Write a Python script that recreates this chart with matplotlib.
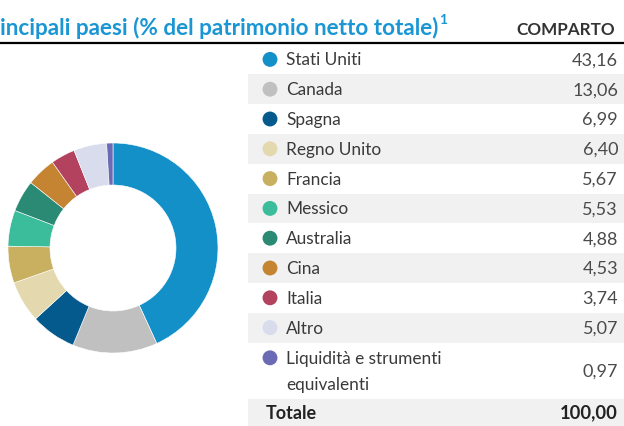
import matplotlib.pyplot as plt
from matplotlib.patches import Rectangle

plt.rcParams['font.family'] = ['Lato', 'DejaVu Sans']

countries = ['Stati Uniti', 'Canada', 'Spagna', 'Regno Unito', 'Francia',
             'Messico', 'Australia', 'Cina', 'Italia', 'Altro',
             'Liquidità e strumenti\nequivalenti']
weights = [43.16, 13.06, 6.99, 6.40, 5.67, 5.53, 4.88, 4.53, 3.74, 5.07, 0.97]
colors = ['#1490c9', '#c0c0c0', '#045a8d', '#e4d8ae', '#c9b060', '#3bbd9c',
          '#2a8a73', '#c58432', '#b3425f', '#d8dcec', '#6b6bb5']
total_label = 'Totale'
total_value = '100,00'
title = 'incipali paesi (% del patrimonio netto totale)'
column_head = 'COMPARTO'

W, H = 624, 426
fig = plt.figure(figsize=(W / 100, H / 100), dpi=100)

# table layer, pixel coordinates with y pointing down
ax = fig.add_axes([0, 0, 1, 1])
ax.set_xlim(0, W)
ax.set_ylim(H, 0)
ax.axis('off')

t = ax.text(0, 35, title, color='#1a96d4', fontsize=16.2, fontweight='bold',
            va='baseline', ha='left')
# footnote mark right after the title
bb = t.get_window_extent(fig.canvas.get_renderer())
sup_x = ax.transData.inverted().transform((bb.x1, 0))[0]
ax.text(sup_x + 1, 24, '1', color='#1a96d4', fontsize=10, fontweight='bold',
        va='baseline', ha='left')
ax.text(615, 35, column_head, color='#333333', fontsize=12.3, fontweight='bold',
        va='baseline', ha='right')
ax.plot([0, W], [43, 43], color='black', lw=1.6, solid_capstyle='butt')

x_left, x_dot, x_name, x_val = 248, 270, 286, 618
row_h = 29.8
top = 44.5
for i, (name, val, c) in enumerate(zip(countries, weights, colors)):
    two = '\n' in name
    h = row_h * (1.9 if two else 1)
    if i % 2 == 1:
        ax.add_patch(Rectangle((x_left, top), W - x_left, h, color='#f1f1f1', lw=0))
    yc = top + h / 2
    ax.scatter([x_dot], [yc - (13 if two else 0)], s=115, color=c,
               edgecolors='none', zorder=3)
    ax.text(x_name, yc + 1, name, fontsize=12.4, color='#3a3a3a',
            va='center', ha='left', linespacing=1.75)
    ax.text(x_val, yc + 1, f'{val:.2f}'.replace('.', ','), fontsize=13,
            color='#4a4a4a', va='center', ha='right')
    top += h

ax.add_patch(Rectangle((x_left, top), W - x_left, H - top + 2, color='#f1f1f1', lw=0))
yc = top + 14
ax.text(266, yc, total_label, fontsize=13, fontweight='bold', color='#222222',
        va='center', ha='left')
ax.text(x_val, yc, total_value, fontsize=13.2, fontweight='bold', color='#222222',
        va='center', ha='right')

# donut
cx, cy, r = 113, 248, 105
pax = fig.add_axes([(cx - r) / W, (H - cy - r) / H, 2 * r / W, 2 * r / H])
pax.pie(weights, colors=colors, startangle=90, counterclock=False, radius=1,
        wedgeprops=dict(width=0.4, edgecolor='white', linewidth=0.4))
pax.set_xlim(-1, 1)
pax.set_ylim(-1, 1)
pax.set_aspect('equal')
pax.axis('off')

fig.savefig('out.png', dpi=100)
